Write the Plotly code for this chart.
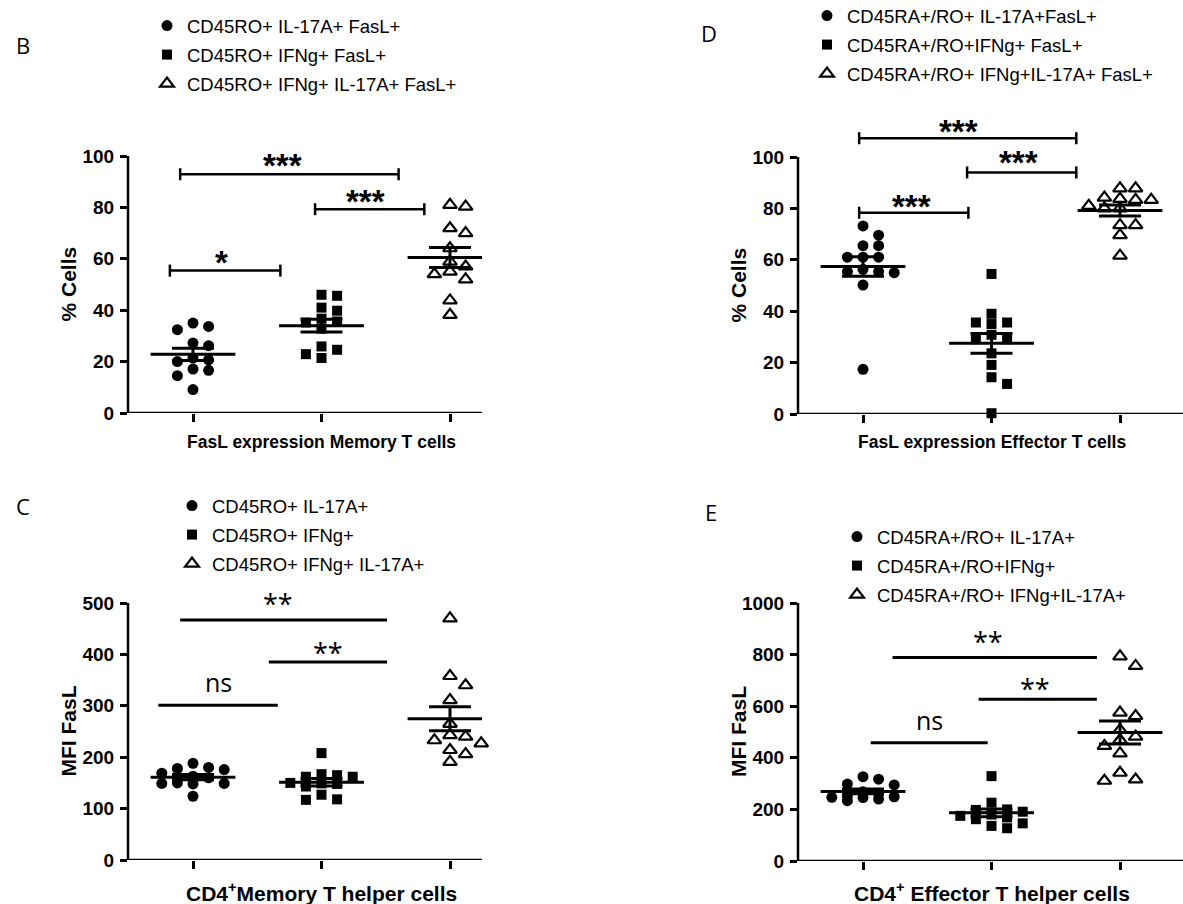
import numpy as np
import plotly.graph_objects as go

W, H = 1183, 904

# ---------------- data ----------------
# Panel B: % FasL+ cells, memory T cells
B_names = ["CD45RO+ IL-17A+ FasL+", "CD45RO+ IFNg+ FasL+", "CD45RO+ IFNg+ IL-17A+ FasL+"]
B_il17 = [33.7, 35.0, 32.4, 26.2, 27.2, 20.7, 21.4, 20.0, 17.1, 16.6, 14.5, 9.1]
B_ifng = [45.6, 46.0, 41.0, 39.8, 36.7, 35.2, 35.6, 32.8, 24.6, 25.9, 21.4, 22.9]
B_dp = [80.3, 81.0, 71.9, 70.0, 64.1, 58.9, 57.0, 54.0, 55.0, 52.0, 43.8, 38.2]

# Panel D: % FasL+ cells, effector T cells
D_names = ["CD45RA+/RO+ IL-17A+FasL+", "CD45RA+/RO+IFNg+ FasL+", "CD45RA+/RO+ IFNg+IL-17A+ FasL+"]
D_il17 = [73.2, 69.6, 65.5, 65.5, 61.0, 61.0, 61.0, 55.4, 55.0, 56.3, 55.4, 50.2, 17.4]
D_ifng = [54.5, 39.0, 35.6, 35.0, 35.6, 29.1, 29.1, 30.8, 23.6, 19.1, 14.3, 11.7, 0.3]
D_dp = [87.8, 87.8, 83.3, 84.2, 83.7, 83.3, 81.0, 80.0, 80.0, 73.5, 73.5, 69.6, 61.6]

# Panel C: MFI FasL, CD4+ memory T helper cells
C_names = ["CD45RO+ IL-17A+", "CD45RO+ IFNg+", "CD45RO+ IFNg+ IL-17A+"]
C_il17 = [178, 188, 176, 180, 169, 160, 149, 150, 149, 148, 124, 163]
C_ifng = [208, 162, 165, 167, 162, 143, 149, 127, 117, 118, 150, 148]
C_dp = [470, 358, 340, 311, 265, 243, 233, 240, 227, 214, 206, 191]

# Panel E: MFI FasL, CD4+ effector T helper cells
E_names = ["CD45RA+/RO+ IL-17A+", "CD45RA+/RO+IFNg+", "CD45RA+/RO+ IFNg+IL-17A+"]
E_il17 = [317, 327, 298, 295, 252, 249, 234, 247, 246, 262, 268, 240]
E_ifng = [329, 169, 198, 226, 162, 146, 127, 136, 191, 200, 180, 175]
E_dp = [793, 756, 575, 562, 482, 508, 446, 469, 417, 342, 311, 316]

# significance brackets: (x start, x end, y line, label, label x, label y)
B_sig = [(-0.18, 0.68, 55.4, "*", 0.22, 61.5),
         (0.95, 1.80, 79.3, "***", 1.34, 85.5),
         (-0.10, 1.60, 92.9, "***", 0.70, 99.5)]
D_sig = [(-0.03, 0.82, 78.3, "***", 0.38, 83.9),
         (0.81, 1.66, 94.0, "***", 1.21, 100.8),
         (-0.03, 1.66, 107.3, "***", 0.74, 113.1)]
C_sig = [(-0.27, 0.66, 301, "ns", 0.20, 350),
         (0.59, 1.51, 385, "**", 1.05, 418),
         (-0.10, 1.51, 467, "**", 0.66, 512)]
E_sig = [(0.06, 0.97, 458, "ns", 0.52, 556),
         (0.90, 1.82, 627, "**", 1.34, 695),
         (0.23, 1.82, 789, "**", 0.97, 877)]

# ---------------- layout geometry (pixels) ----------------
CAT_PX = 128.5
panels = [
    dict(key="B", ax="", names=B_names, data=[B_il17, B_ifng, B_dp], sig=B_sig, brackets=True,
         x0=128, x1=482, c0=193, y0=413, yref=156, refval=100, top=118,
         ticks=list(range(0, 101, 20)), ytitle="% Cells",
         xtitle="FasL expression Memory T cells", xtitle_size=17.5,
         letter="B", letter_xy=(23, 45),
         legend="legend", leg_xy=(147, 7), ytitle_x=68, xtitle_y=442),
    dict(key="D", ax="2", names=D_names, data=[D_il17, D_ifng, D_dp], sig=D_sig, brackets=True,
         x0=798, x1=1183, c0=863, y0=414, yref=157, refval=100, top=105,
         ticks=list(range(0, 101, 20)), ytitle="% Cells",
         xtitle="FasL expression Effector T cells", xtitle_size=17.5,
         letter="D", letter_xy=(709, 33),
         legend="legend2", leg_xy=(807, -3), ytitle_x=738, xtitle_y=442),
    dict(key="C", ax="3", names=C_names, data=[C_il17, C_ifng, C_dp], sig=C_sig, brackets=False,
         x0=128, x1=482, c0=193, y0=860, yref=603, refval=500, top=585,
         ticks=list(range(0, 501, 100)), ytitle="MFI FasL",
         xtitle="CD4<sup>+</sup>Memory T helper cells", xtitle_size=21,
         letter="C", letter_xy=(23, 506),
         legend="legend3", leg_xy=(172, 487), ytitle_x=68, xtitle_y=892),
    dict(key="E", ax="4", names=E_names, data=[E_il17, E_ifng, E_dp], sig=E_sig, brackets=False,
         x0=798, x1=1183, c0=863, y0=861, yref=603, refval=1000, top=590,
         ticks=list(range(0, 1001, 200)), ytitle="MFI FasL",
         xtitle="CD4<sup>+</sup> Effector T helper cells", xtitle_size=21,
         letter="E", letter_xy=(711, 512),
         legend="legend4", leg_xy=(837, 518), ytitle_x=738, xtitle_y=892),
]

SYMBOLS = [dict(symbol="circle", size=11, color="black"),
           dict(symbol="square", size=10, color="black"),
           dict(symbol="triangle-up-open", size=12, color="black", line=dict(width=2.2, color="black"))]


def swarm(values, px_per_unit, step_px=15.6, diam=10.0):
    """simple beeswarm (max two slots each side): offsets in category units"""
    order = sorted(range(len(values)), key=lambda i: -values[i])
    placed = []
    offs = [0.0] * len(values)
    for i in order:
        y = values[i] * px_per_unit
        best, best_d = 0.0, -1.0
        for k in [0, 1, -1, 2, -2]:
            x = k * step_px
            d = min([np.hypot(x - px, y - py) for px, py in placed] or [1e9])
            if d >= diam:
                best = x
                break
            if d > best_d:
                best, best_d = x, d
        placed.append((best, y))
        offs[i] = best / CAT_PX
    return offs


fig = go.Figure()
shapes, annos = [], []
layout_axes = {}
FONT = "Liberation Sans, Arial, sans-serif"

for p in panels:
    ax = p["ax"]
    xa, ya = "x" + ax, "y" + ax
    ppu = (p["y0"] - p["yref"]) / p["refval"]  # pixels per unit
    ytop = (p["y0"] - p["top"]) / ppu
    xr = [(p["x0"] - p["c0"]) / CAT_PX, (p["x1"] - p["c0"]) / CAT_PX]
    layout_axes["xaxis" + ax] = dict(
        domain=[p["x0"] / W, p["x1"] / W], range=xr, anchor=ya,
        tickvals=[0, 1, 2], ticktext=["", "", ""], ticks="outside", ticklen=8, tickwidth=2.5,
        tickcolor="black", showgrid=False, zeroline=False, showline=False, fixedrange=True)
    layout_axes["yaxis" + ax] = dict(
        domain=[1 - p["y0"] / H, 1 - p["top"] / H], range=[0, ytop], anchor=xa,
        tickvals=p["ticks"], ticks="outside", ticklen=7, tickwidth=2.5, tickcolor="black",
        ticklabelstandoff=2,
        tickfont=dict(family=FONT, size=19, color="black", weight="bold"),
        showgrid=False, zeroline=False, showline=False, fixedrange=True)

    # markers + mean + SEM
    for gi, (name, vals) in enumerate(zip(p["names"], p["data"])):
        offs = swarm(vals, ppu)
        fig.add_trace(go.Scatter(
            x=[gi + o for o in offs], y=vals, mode="markers", name=name,
            marker=SYMBOLS[gi], xaxis=xa, yaxis=ya, cliponaxis=False,
            legend=p["legend"], legendgroup=p["key"] + str(gi)))
    for gi, vals in enumerate(p["data"]):
        arr = np.array(vals, dtype=float)
        m = arr.mean()
        sem = arr.std(ddof=1) / np.sqrt(len(arr))
        fig.add_trace(go.Scatter(
            x=[gi - 0.33, gi + 0.33], y=[m, m], mode="lines",
            line=dict(color="black", width=3), xaxis=xa, yaxis=ya, showlegend=False,
            hoverinfo="skip", cliponaxis=False))
        fig.add_trace(go.Scatter(
            x=[gi], y=[m], mode="markers", marker=dict(size=1, color="rgba(0,0,0,0)"),
            error_y=dict(type="data", array=[sem], width=21, thickness=3, color="black"),
            xaxis=xa, yaxis=ya, showlegend=False, hoverinfo="skip", cliponaxis=False))

    # axis lines (Prism style: y axis stops at top tick)
    shapes.append(dict(type="line", xref=xa + " domain", yref=ya, x0=0, x1=0,
                       y0=0, y1=p["ticks"][-1], line=dict(color="black", width=2.5)))
    shapes.append(dict(type="line", xref=xa + " domain", yref=ya, x0=0, x1=1,
                       y0=0, y1=0, line=dict(color="black", width=2.5)))

    # significance brackets
    tick_h = 6 / ppu
    for (sx0, sx1, sy, lab, lx, ly) in p["sig"]:
        shapes.append(dict(type="line", xref=xa, yref=ya, x0=sx0, x1=sx1, y0=sy, y1=sy,
                           line=dict(color="black", width=2.5 if p["brackets"] else 3)))
        if p["brackets"]:
            for ex in (sx0, sx1):
                shapes.append(dict(type="line", xref=xa, yref=ya, x0=ex, x1=ex,
                                   y0=sy - tick_h, y1=sy + tick_h,
                                   line=dict(color="black", width=2.5)))
        if lab == "ns":
            f = dict(family="Open Sans, sans-serif", size=25, color="black")
            ysh = -2
        elif p["brackets"]:
            f = dict(family=FONT, size=33, color="black", weight="bold")
            ysh = -8
        else:
            f = dict(family="Open Sans, sans-serif", size=27, color="black")
            ysh = -7
        annos.append(dict(x=lx, y=ly, xref=xa, yref=ya, text=lab, showarrow=False,
                          font=f, xanchor="center", yanchor="middle", yshift=ysh))

    # titles
    annos.append(dict(x=p["ytitle_x"] / W, y=1 - ((p["y0"] + p["yref"]) / 2) / H,
                      xref="paper", yref="paper", text=p["ytitle"], textangle=-90,
                      showarrow=False, xanchor="center", yanchor="middle",
                      font=dict(family=FONT, size=21, color="black", weight="bold")))
    annos.append(dict(x=(p["c0"] + CAT_PX) / W, y=1 - p["xtitle_y"] / H,
                      xref="paper", yref="paper", text=p["xtitle"], showarrow=False,
                      xanchor="center", yanchor="middle",
                      font=dict(family=FONT, size=p["xtitle_size"], color="black",
                                weight="bold")))
    annos.append(dict(x=p["letter_xy"][0] / W, y=1 - p["letter_xy"][1] / H,
                      xref="paper", yref="paper", text=p["letter"], showarrow=False,
                      xanchor="center", yanchor="middle",
                      font=dict(family="Open Sans, sans-serif", size=22, color="black")))

legend_cfg = {}
for p in panels:
    legend_cfg[p["legend"]] = dict(
        x=p["leg_xy"][0] / W, y=1 - p["leg_xy"][1] / H, xanchor="left", yanchor="top",
        bgcolor="rgba(0,0,0,0)", tracegroupgap=2,
        font=dict(family=FONT, size=18.5, color="black"))

fig.update_layout(
    width=W, height=H, margin=dict(l=0, r=0, t=0, b=0, autoexpand=False),
    paper_bgcolor="white", plot_bgcolor="white",
    shapes=shapes, annotations=annos, showlegend=True,
    **layout_axes, **legend_cfg)

fig.write_html("out.html", config={"displayModeBar": False},
               post_script="document.body.style.margin='0';")
